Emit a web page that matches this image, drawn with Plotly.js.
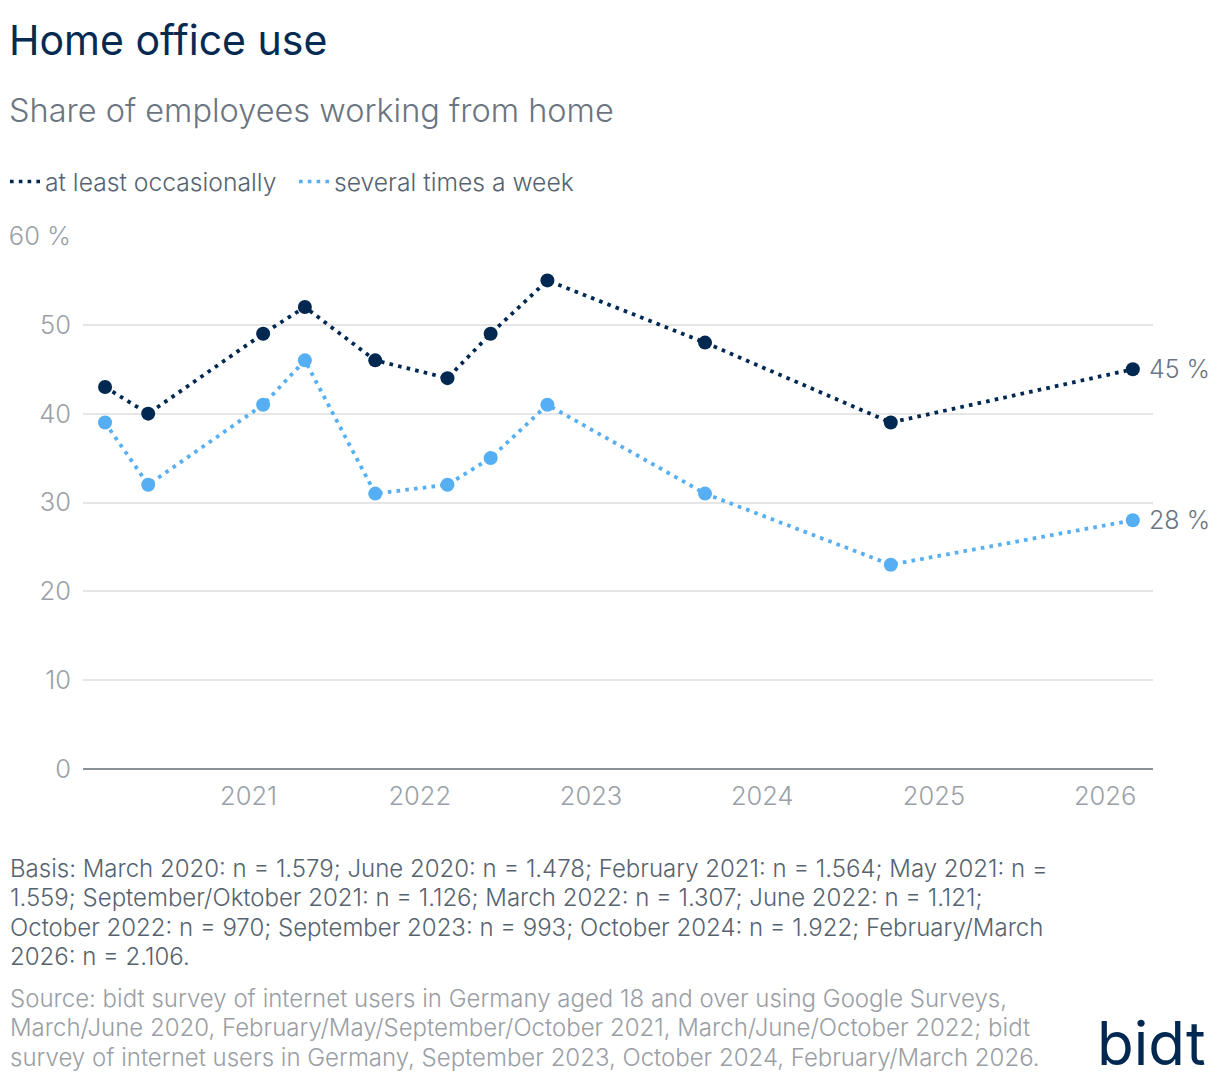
<!DOCTYPE html>
<html>
<head>
<meta charset="utf-8">
<script src="https://cdn.plot.ly/plotly-3.0.1.min.js"></script>
<style>
  html, body { margin: 0; padding: 0; background: #fff; }
  #chart { width: 1220px; height: 1082px; }
</style>
</head>
<body>
<div id="chart"></div>
<script>
/* Home office use - bidt */
var surveyDates = ['2020-03-01', '2020-06-01', '2021-02-01', '2021-05-01', '2021-09-28',
                   '2022-03-01', '2022-06-01', '2022-09-30', '2023-09-01', '2024-10-01', '2026-03-01'];
var occasionally = [43, 40, 49, 52, 46, 44, 49, 55, 48, 39, 45];
var severalWeekly = [39, 32, 41, 46, 31, 32, 35, 41, 31, 23, 28];
var seriesNames = ['at least occasionally', 'several times a week'];
var yTickVals = [0, 10, 20, 30, 40, 50, 60];
var yTickText = ['0', '10', '20', '30', '40', '50', '60 %'];
var xTickVals = ['2021-01-01', '2022-01-01', '2023-01-01', '2024-01-01', '2025-01-01', '2026-01-01'];
var basisLines = [
    'Basis: March 2020: n = 1.579; June 2020: n = 1.478; February 2021: n = 1.564; May 2021: n =',
    '1.559; September/Oktober 2021: n = 1.126; March 2022: n = 1.307; June 2022: n = 1.121;',
    'October 2022: n = 970; September 2023: n = 993; October 2024: n = 1.922; February/March',
    '2026: n = 2.106.'
];
var sourceLines = [
    'Source: bidt survey of internet users in Germany aged 18 and over using Google Surveys,',
    'March/June 2020, February/May/September/October 2021, March/June/October 2022; bidt',
    'survey of internet users in Germany, September 2023, October 2024, February/March 2026.'
];

var navy = '#002850';
var sky = '#55aff2';
var font = 'Inter, "Liberation Sans", sans-serif';
var dotDash = '3.6px,5.2px';

// legend is placed in container (page) pixels
function cy(p) { return 1 - p / 1082; }
function cx(p) { return p / 1220; }

var last = surveyDates.length - 1;

var trace0 = {
    x: surveyDates,
    y: occasionally,
    mode: 'lines+markers',
    type: 'scatter',
    name: seriesNames[0],
    showlegend: false,
    line: {color: navy, width: 3.8, dash: dotDash},
    marker: {color: navy, size: 14}
};
var trace1 = {
    x: surveyDates,
    y: severalWeekly,
    mode: 'lines+markers',
    type: 'scatter',
    name: seriesNames[1],
    showlegend: false,
    line: {color: sky, width: 3.8, dash: dotDash},
    marker: {color: sky, size: 14}
};
// legend entries: dotted line only
var leg0 = {x: [null], y: [null], mode: 'lines', type: 'scatter', name: seriesNames[0],
    line: {color: navy, width: 3.6, dash: dotDash}};
var leg1 = {x: [null], y: [null], mode: 'lines', type: 'scatter', name: seriesNames[1],
    line: {color: sky, width: 3.6, dash: dotDash}};

// paper coords for annotations (plot area x 83..1153, y 236..769)
function py(p) { return (769 - p) / 533; }
function px(p) { return (p - 83) / 1070; }

var notes = [];
basisLines.forEach(function (t, i) {
    notes.push({text: t, xref: 'paper', yref: 'paper', x: px(8), y: py(868 + i * 29.5),
        xanchor: 'left', yanchor: 'middle', align: 'left', showarrow: false,
        font: {size: 24, color: '#56636f', weight: 300}});
});
sourceLines.forEach(function (t, i) {
    notes.push({text: t, xref: 'paper', yref: 'paper', x: px(8), y: py(998 + i * 29.5),
        xanchor: 'left', yanchor: 'middle', align: 'left', showarrow: false,
        font: {size: 24, color: '#9a9ea5', weight: 300}});
});

var layout = {
    width: 1220,
    height: 1082,
    margin: {t: 236, r: 67, l: 83, b: 313},
    paper_bgcolor: '#fff',
    plot_bgcolor: '#fff',
    font: {family: font, color: '#5c6876', weight: 300},
    showlegend: true,
    legend: {
        orientation: 'h', xref: 'container', yref: 'container',
        x: cx(5), xanchor: 'left', y: cy(182), yanchor: 'middle',
        font: {size: 24.7, color: '#56636f', weight: 300}, itemwidth: 30,
        entrywidth: 244,
        bgcolor: 'rgba(0,0,0,0)'
    },
    xaxis: {
        type: 'date',
        range: ['2020-01-14', '2026-04-13'],
        tickvals: xTickVals,
        tickformat: '%Y',
        showgrid: false,
        zeroline: false,
        showline: false,
        ticks: '',
        automargin: false,
        ticklabelstandoff: 9,
        tickfont: {size: 25.5, color: '#9aa0a8', weight: 300},
        fixedrange: true
    },
    yaxis: {
        range: [0, 60],
        tickvals: yTickVals,
        ticktext: yTickText,
        showgrid: true,
        gridcolor: '#e6e6e6',
        gridwidth: 1.5,
        zeroline: true,
        zerolinecolor: '#8b9199',
        zerolinewidth: 2,
        showline: false,
        ticks: '',
        automargin: false,
        ticklabelstandoff: 11,
        tickfont: {size: 25.5, color: '#9aa0a8', weight: 300},
        fixedrange: true
    },
    annotations: [
        {text: 'Home office use', xref: 'paper', yref: 'paper', x: px(7), y: py(40),
         xanchor: 'left', yanchor: 'middle', showarrow: false,
         font: {size: 41, color: '#062a52', family: font, weight: 400}},
        {text: 'Share of employees working from home', xref: 'paper', yref: 'paper', x: px(7), y: py(110),
         xanchor: 'left', yanchor: 'middle', showarrow: false,
         font: {size: 32.5, color: '#6b7581', family: font, weight: 300}},
        {text: occasionally[last] + ' %', xref: 'x', yref: 'y', x: surveyDates[last], y: occasionally[last],
         xanchor: 'left', yanchor: 'middle', xshift: 14, showarrow: false,
         font: {size: 25, color: '#6b7581', weight: 300}},
        {text: severalWeekly[last] + ' %', xref: 'x', yref: 'y', x: surveyDates[last], y: severalWeekly[last],
         xanchor: 'left', yanchor: 'middle', xshift: 14, showarrow: false,
         font: {size: 25, color: '#6b7581', weight: 300}},
        {text: 'bidt', xref: 'paper', yref: 'paper', x: px(1208), y: py(1081),
         xanchor: 'right', yanchor: 'bottom', showarrow: false,
         font: {size: 60, color: navy, family: font, weight: 400}}
    ].concat(notes)
};

Plotly.newPlot('chart', [trace0, trace1, leg0, leg1], layout, {displayModeBar: false, responsive: false});
</script>
</body>
</html>
